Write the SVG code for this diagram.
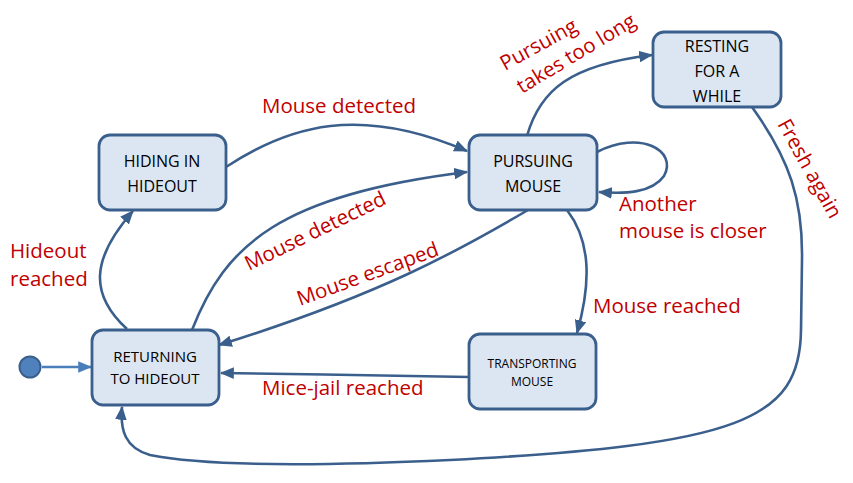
<svg xmlns="http://www.w3.org/2000/svg" width="853" height="483" viewBox="0 0 853 483">
<defs>
<style>
.node rect{fill:#dce6f2;stroke:#3b5f8c;stroke-width:2.8}
.nt{font-family:"Open Sans","Liberation Sans",sans-serif;font-size:16px;fill:#000;text-anchor:middle}
.lbl{font-family:"Open Sans","Liberation Sans",sans-serif;font-size:20.5px;fill:#c00000}
.edge{fill:none;stroke:#3b5f8c;stroke-width:2.6;marker-end:url(#ah)}
</style>
<marker id="ah" viewBox="0 0 12 10" refX="11" refY="5" markerWidth="14" markerHeight="12" orient="auto" markerUnits="userSpaceOnUse">
<path d="M0,0 L12,5 L0,10 z" fill="#3b5f8c"/>
</marker>
<marker id="ah2" viewBox="0 0 12 10" refX="11" refY="5" markerWidth="14" markerHeight="12" orient="auto" markerUnits="userSpaceOnUse">
<path d="M0,0 L12,5 L0,10 z" fill="#4a7ebb"/>
</marker>
</defs>
<rect width="853" height="483" fill="#fff"/>

<g id="connectors">
<path class="edge" d="M42,367 L91,367" style="stroke:#4a7ebb;marker-end:url(#ah2)"/>
<path class="edge" d="M226,167 C290,125 360,105 467,151"/>
<path class="edge" d="M192,330 C225,245 280,195 467,172"/>
<path class="edge" d="M528,210 C460,250 380,295 219,345"/>
<path class="edge" d="M469,377 C400,376 300,374 221,373"/>
<path class="edge" d="M567,210 C590,240 592,280 577,333"/>
<path class="edge" d="M127,329 C90,295 90,260 133,211"/>
<path class="edge" d="M597,152 C640,130 678,150 664,176 C652,193 625,194 599,192"/>
<path class="edge" d="M527,136 C540,90 570,65 652,55"/>
<path class="edge" d="M752,107 C790,160 803,200 802,260 L801,330 C800,420 740,445 450,460 C300,467 200,465 150,455 C125,448 120,430 122,407"/>
</g>

<g id="initial">
<circle cx="30" cy="367" r="10.5" fill="#4f81bd" stroke="#3b5f8c" stroke-width="2"/>
</g>

<g id="hiding" class="node">
<rect x="99" y="135" width="127" height="75" rx="11"/>
<text class="nt" x="162" y="167">HIDING IN</text>
<text class="nt" x="162" y="192">HIDEOUT</text>
</g>

<g id="returning" class="node">
<rect x="92" y="330" width="127" height="75" rx="11"/>
<text class="nt" x="155" y="362" style="font-size:15px">RETURNING</text>
<text class="nt" x="155" y="384" style="font-size:15px">TO HIDEOUT</text>
</g>

<g id="pursuing" class="node">
<rect x="469" y="135" width="128" height="75" rx="11"/>
<text class="nt" x="533" y="167">PURSUING</text>
<text class="nt" x="533" y="192">MOUSE</text>
</g>

<g id="transporting" class="node">
<rect x="469" y="334" width="127" height="75" rx="11"/>
<text class="nt" x="532" y="368" style="font-size:12px">TRANSPORTING</text>
<text class="nt" x="532" y="386" style="font-size:12px">MOUSE</text>
</g>

<g id="resting" class="node">
<rect x="653" y="32" width="128" height="75" rx="11"/>
<text class="nt" x="717" y="52">RESTING</text>
<text class="nt" x="717" y="77">FOR A</text>
<text class="nt" x="717" y="102">WHILE</text>
</g>

<g id="labels">
<text class="lbl" x="262" y="113">Mouse detected</text>
<text class="lbl" x="10" y="258">Hideout</text>
<text class="lbl" x="10" y="286">reached</text>
<text class="lbl" transform="translate(249,271) rotate(-26)">Mouse detected</text>
<text class="lbl" transform="translate(300,306) rotate(-20)">Mouse escaped</text>
<text class="lbl" x="262" y="395">Mice-jail reached</text>
<text class="lbl" x="593" y="313">Mouse reached</text>
<text class="lbl" x="619" y="211">Another</text>
<text class="lbl" x="619" y="238">mouse is closer</text>
<text class="lbl" transform="translate(505,71) rotate(-29)">Pursuing</text>
<text class="lbl" transform="translate(522,94) rotate(-31)">takes too long</text>
<text class="lbl" transform="translate(777,124) rotate(61)">Fresh again</text>
</g>
</svg>
